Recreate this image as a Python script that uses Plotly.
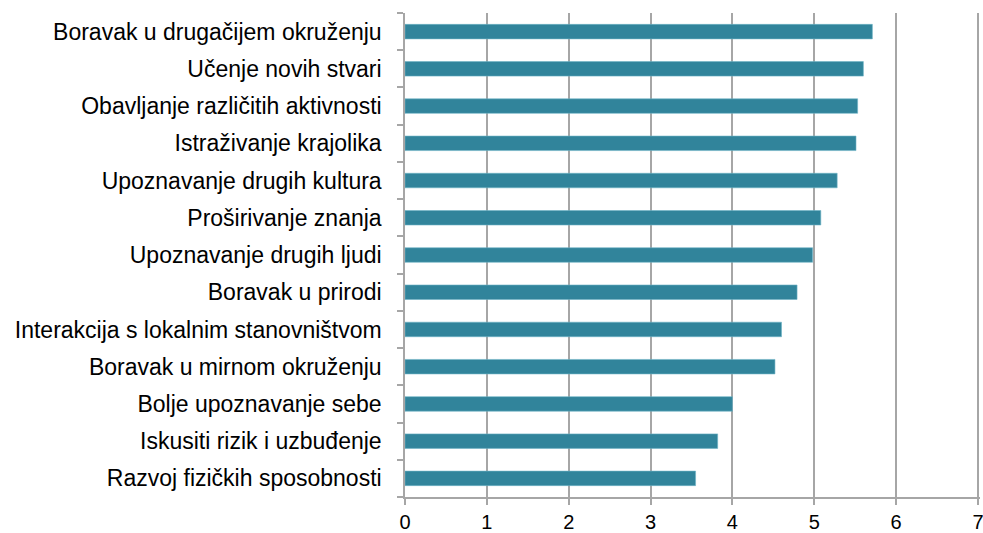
import plotly.graph_objects as go

categories = [
    "Boravak u drugačijem okruženju",
    "Učenje novih stvari",
    "Obavljanje različitih aktivnosti",
    "Istraživanje krajolika",
    "Upoznavanje drugih kultura",
    "Proširivanje znanja",
    "Upoznavanje drugih ljudi",
    "Boravak u prirodi",
    "Interakcija s lokalnim stanovništvom",
    "Boravak u mirnom okruženju",
    "Bolje upoznavanje sebe",
    "Iskusiti rizik i uzbuđenje",
    "Razvoj fizičkih sposobnosti",
]
values = [5.71, 5.60, 5.53, 5.51, 5.28, 5.08, 4.98, 4.79, 4.60, 4.52, 4.00, 3.82, 3.55]
x_ticks = [0, 1, 2, 3, 4, 5, 6, 7]

fig = go.Figure(
    go.Bar(
        y=categories,
        x=values,
        orientation="h",
        width=0.39,
        marker=dict(color="#31849B", line=dict(color="#6FB3C6", width=0.6)),
        cliponaxis=False,
    )
)

fig.update_layout(
    width=983,
    height=533,
    margin=dict(l=405, r=3, t=13, b=36, autoexpand=False),
    paper_bgcolor="white",
    plot_bgcolor="white",
    showlegend=False,
    font=dict(family="Liberation Sans, Arial, sans-serif", size=23, color="#000000"),
)

fig.update_xaxes(
    range=[0, 7.025],
    tickvals=x_ticks,
    ticktext=[str(t) for t in x_ticks],
    automargin=False,
    ticklabeloverflow="allow",
    showgrid=True,
    gridcolor="#A6A6A6",
    gridwidth=1.5,
    zeroline=False,
    showline=True,
    linecolor="#A6A6A6",
    linewidth=1.5,
    ticks="outside",
    ticklen=6,
    tickcolor="#A6A6A6",
    tickwidth=1.5,
    tickfont=dict(size=20, color="#000000"),
)

fig.update_yaxes(
    categoryorder="array",
    categoryarray=categories[::-1],
    autorange=False,
    range=[-0.5, len(categories) - 0.5],
    automargin=False,
    showline=True,
    linecolor="#A6A6A6",
    linewidth=1.5,
    ticks="outside",
    tickson="boundaries",
    ticklen=6,
    tickcolor="#A6A6A6",
    tickwidth=1.5,
    showgrid=False,
    ticklabelstandoff=17,
    tickfont=dict(size=23, color="#000000"),
)

fig.write_html(
    "out.html",
    config={"displayModeBar": False},
    post_script="document.body.style.margin='0';document.body.style.overflow='hidden';",
)
